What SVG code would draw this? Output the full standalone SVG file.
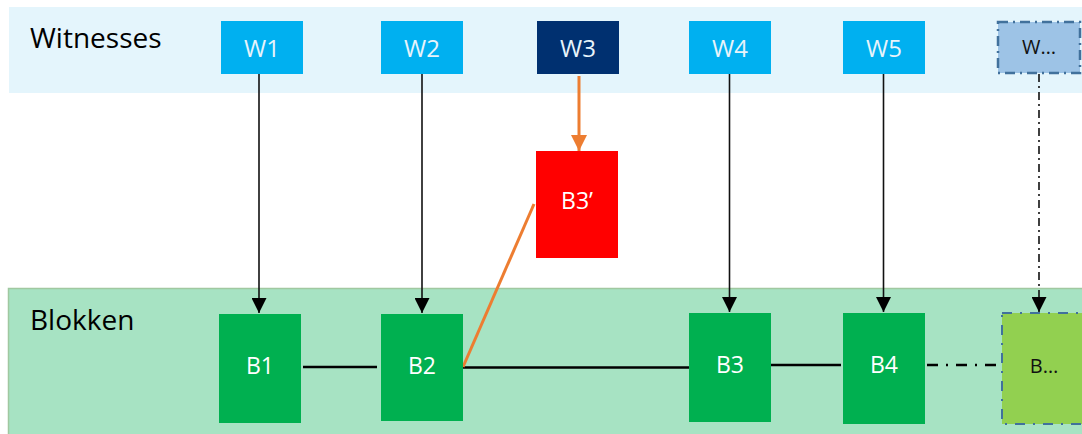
<svg xmlns="http://www.w3.org/2000/svg" width="1082" height="434" viewBox="0 0 1082 434">
<defs>
<style>
.lbl{font-family:"Open Sans","Liberation Sans",sans-serif;font-size:28px;fill:#000}
.wt{font-family:"Open Sans","Liberation Sans",sans-serif;font-size:24px;fill:#e8f4fb;text-anchor:middle}
.bt{font-family:"Open Sans","Liberation Sans",sans-serif;font-size:23px;fill:#fff;text-anchor:middle}
.dt{font-family:"Open Sans","Liberation Sans",sans-serif;font-size:20px;fill:#111;text-anchor:middle}
.w{fill:#00b0f0}
.b{fill:#00b050}
.v{stroke:#111;stroke-width:1.6;fill:none}
.h{stroke:#000;stroke-width:2.6;fill:none}
</style>
<marker id="ah" viewBox="0 0 10 10" refX="10" refY="5" markerWidth="15" markerHeight="15" markerUnits="userSpaceOnUse" orient="auto">
<path d="M0,0 L10,5 L0,10 z" fill="#000"/>
</marker>
<marker id="ao" viewBox="0 0 10 10" refX="10" refY="5" markerWidth="16" markerHeight="16" markerUnits="userSpaceOnUse" orient="auto">
<path d="M0,0 L10,5 L0,10 z" fill="#ed7d31"/>
</marker>
</defs>
<rect x="0" y="0" width="1082" height="434" fill="#fff"/>
<g id="band-witnesses">
<rect x="9" y="7" width="1073" height="86" fill="#e4f5fc"/>
<text class="lbl" x="30" y="48">Witnesses</text>
</g>
<g id="band-blokken">
<rect x="8.5" y="288.5" width="1075" height="150" fill="#a7e3c3" stroke="#a0c8a0" stroke-width="1.5"/>
<text class="lbl" x="30" y="330">Blokken</text>
</g>
<g id="connectors">
<line class="v" x1="259" y1="74" x2="259" y2="313" marker-end="url(#ah)"/>
<line class="v" x1="422" y1="74" x2="422" y2="313" marker-end="url(#ah)"/>
<line class="v" x1="729.5" y1="74" x2="729.5" y2="312" marker-end="url(#ah)"/>
<line class="v" x1="883.5" y1="74" x2="883.5" y2="312" marker-end="url(#ah)"/>
<line class="v" x1="1039" y1="74" x2="1039" y2="312" stroke-dasharray="8 4 2 4" marker-end="url(#ah)"/>
<line x1="579" y1="76" x2="579" y2="151" stroke="#ed7d31" stroke-width="3" marker-end="url(#ao)"/>
<line class="h" x1="303" y1="367" x2="377" y2="367"/>
<line class="h" x1="463" y1="367.5" x2="689" y2="367.5"/>
<line class="h" x1="771" y1="365" x2="841" y2="365"/>
<line class="h" x1="927" y1="365" x2="997" y2="365" stroke-dasharray="11 8 2 8"/>
<line x1="463" y1="367" x2="534" y2="204" stroke="#ed7d31" stroke-width="3"/>
</g>
<g id="W1"><rect class="w" x="221" y="21" width="82" height="53"/><text class="wt" x="262" y="57">W1</text></g>
<g id="W2"><rect class="w" x="381" y="21" width="82" height="53"/><text class="wt" x="422" y="57">W2</text></g>
<g id="W3"><rect x="537" y="21" width="82" height="53" fill="#003070"/><text class="wt" x="578" y="57">W3</text></g>
<g id="W4"><rect class="w" x="689" y="21" width="82" height="53"/><text class="wt" x="730" y="57">W4</text></g>
<g id="W5"><rect class="w" x="843" y="21" width="82" height="53"/><text class="wt" x="884" y="57">W5</text></g>
<g id="Wdots"><rect x="998" y="22" width="82" height="51" fill="#9dc3e6" stroke="#41719c" stroke-width="2.5" stroke-dasharray="10 5 2 5"/><text class="dt" x="1039" y="54">W…</text></g>
<g id="B3prime"><rect x="536" y="151" width="82" height="107" fill="#ff0000"/><text class="bt" x="577" y="209">B3’</text></g>
<g id="B1"><rect class="b" x="219" y="314" width="82" height="109"/><text class="bt" x="260" y="374">B1</text></g>
<g id="B2"><rect class="b" x="381" y="314" width="82" height="107"/><text class="bt" x="422" y="374">B2</text></g>
<g id="B3"><rect class="b" x="689" y="313" width="82" height="109"/><text class="bt" x="730" y="373">B3</text></g>
<g id="B4"><rect class="b" x="843" y="313" width="82" height="111"/><text class="bt" x="884" y="373">B4</text></g>
<g id="Bdots"><rect x="1002" y="313" width="82" height="111" fill="#92d050" stroke="#41719c" stroke-width="2" stroke-dasharray="10 8 2 8"/><text class="dt" x="1044" y="373">B…</text></g>
</svg>
